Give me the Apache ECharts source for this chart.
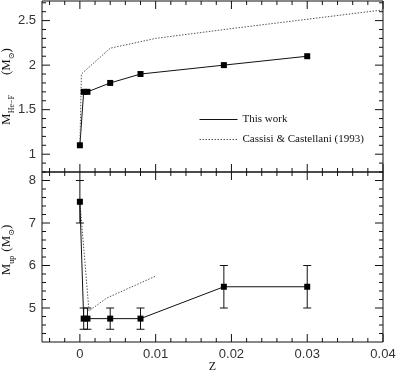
<!DOCTYPE html>
<html>
<head>
<meta charset="utf-8">
<script src="https://cdn.jsdelivr.net/npm/echarts@6/dist/echarts.min.js"></script>
<style>
  html, body { margin: 0; padding: 0; background: #fff; }
  #chart { width: 397px; height: 372px; }
</style>
</head>
<body>
<div id="chart"></div>
<script>
// top panel: M_He-F vs Z
const heZ = [0, 0.0005, 0.001, 0.004, 0.008, 0.019, 0.03]
const heM = [1.1, 1.7, 1.7, 1.8, 1.9, 2.0, 2.1]
const ccHeZ = [0, 0.0002, 0.004, 0.01, 0.02, 0.04]
const ccHeM = [1.1, 1.9, 2.19, 2.3, 2.41, 2.62]

// bottom panel: M_up vs Z, with error bars
const upZ = [0, 0.0005, 0.001, 0.004, 0.008, 0.019, 0.03]
const upM = [7.5, 4.75, 4.75, 4.75, 4.75, 5.5, 5.5]
const upErr = [0.5, 0.25, 0.25, 0.25, 0.25, 0.5, 0.5]
const ccUpZ = [0, 0.0012, 0.0035, 0.01]
const ccUpM = [7.5, 4.93, 5.23, 5.75]

// tick values
const xMajor = [0, 0.01, 0.02, 0.03, 0.04]
const xMinor = [-0.004, -0.002, 0.002, 0.004, 0.006, 0.008, 0.012, 0.014, 0.016, 0.018,
  0.022, 0.024, 0.026, 0.028, 0.032, 0.034, 0.036, 0.038]
const yTopMajor = [1, 1.5, 2, 2.5]
const yTopMinor = [0.9, 1.1, 1.2, 1.3, 1.4, 1.6, 1.7, 1.8, 1.9, 2.1, 2.2, 2.3, 2.4, 2.6, 2.7]
const yBotMajor = [5, 6, 7, 8]
const yBotMinor = [4.4, 4.6, 4.8, 5.2, 5.4, 5.6, 5.8, 6.2, 6.4, 6.6, 6.8, 7.2, 7.4, 7.6, 7.8, 8.2]

const ink = '#111'
const serif = '"Liberation Serif", "DejaVu Serif", serif'
const sans = '"Liberation Sans", Arial, sans-serif'

const xRange = {min: -0.005, max: 0.04}
const topRange = {min: 0.8, max: 2.72}
const botRange = {min: 4.2, max: 8.2}

const MAJ = 8, MIN = 4   // tick lengths in px

const nameRich = {
  m: {fontFamily: serif, fontSize: 13, color: ink},
  s: {fontFamily: serif, fontSize: 8, color: ink, verticalAlign: 'bottom', padding: [0, 0, -3, 0]},
  g: {width: 20},
  g2: {width: 4},
  g3: {width: 14}
}

function xAxis(grid, labels, extra) {
  return Object.assign({
    type: 'value', gridIndex: grid, min: xRange.min, max: xRange.max,
    axisLine: {show: false}, axisTick: {show: false}, splitLine: {show: false},
    axisLabel: labels ? {show: true, customValues: xMajor, fontFamily: sans, fontSize: 13,
      color: '#333', margin: 6} : {show: false}
  }, extra || {})
}
function yAxis(grid, range, major, extra) {
  return Object.assign({
    type: 'value', gridIndex: grid, min: range.min, max: range.max,
    axisLine: {show: false}, axisTick: {show: false}, splitLine: {show: false},
    nameMoveOverlap: false,
    axisLabel: {show: true, customValues: major, fontFamily: sans, fontSize: 13,
      color: '#333', margin: 6}
  }, extra || {})
}

// tick rows: [value, length, kind]  kind 0 = along x, 1 = along y
function tickRows(xs, ys, len) {
  return xs.map(v => [v, len, 0]).concat(ys.map(v => [v, len, 1]))
}
function tickSeries(idx, yRange, rows) {
  return {
    type: 'custom', xAxisIndex: idx, yAxisIndex: idx, clip: false, silent: true,
    data: rows, z: 5,
    renderItem: function (params, api) {
      const v = api.value(0), len = api.value(1), kind = api.value(2)
      const st = {stroke: ink, lineWidth: 1}
      if (kind === 0) {
        const b = api.coord([v, yRange.min]), t = api.coord([v, yRange.max])
        return {type: 'group', children: [
          {type: 'line', shape: {x1: b[0], y1: b[1], x2: b[0], y2: b[1] - len}, style: st},
          {type: 'line', shape: {x1: t[0], y1: t[1], x2: t[0], y2: t[1] + len}, style: st}
        ]}
      }
      const l = api.coord([xRange.min, v]), r = api.coord([xRange.max, v])
      return {type: 'group', children: [
        {type: 'line', shape: {x1: l[0], y1: l[1], x2: l[0] + len, y2: l[1]}, style: st},
        {type: 'line', shape: {x1: r[0], y1: r[1], x2: r[0] - len, y2: r[1]}, style: st}
      ]}
    }
  }
}

const zip = (a, b) => a.map((v, i) => [v, b[i]])
const gridBase = {left: 42, right: 14, show: true, borderColor: ink, borderWidth: 1,
  backgroundColor: 'transparent', containLabel: false, outerBoundsMode: 'none'}

const option = {
  animation: false,
  grid: [
    Object.assign({top: 1, height: 171}, gridBase),
    Object.assign({top: 172, height: 170}, gridBase)
  ],
  xAxis: [
    xAxis(0, false),
    xAxis(1, true, {name: 'Z', nameLocation: 'middle', nameGap: 19, nameMoveOverlap: false,
      nameTextStyle: {fontFamily: serif, fontSize: 12, color: ink}})
  ],
  yAxis: [
    yAxis(0, topRange, yTopMajor, {
      name: '{m|M}{s|He−F}{g|}{m|(M}{s|⊙}{m|)}', nameLocation: 'middle', nameGap: 29,
      nameTextStyle: {rich: nameRich}
    }),
    yAxis(1, botRange, yBotMajor, {
      name: '{g3|}{m|M}{s|up}{g2|}{m|(M}{s|⊙}{m|)}', nameLocation: 'middle', nameGap: 29,
      nameTextStyle: {rich: nameRich}
    })
  ],
  legend: {
    orient: 'vertical', left: 194, top: 109, itemWidth: 38, itemHeight: 10, itemGap: 9,
    data: ['This work', 'Cassisi & Castellani (1993)'],
    itemStyle: {opacity: 0},
    lineStyle: {width: 1},
    textStyle: {fontFamily: serif, fontSize: 11, color: ink}
  },
  series: [
    {
      name: 'This work', type: 'line', xAxisIndex: 0, yAxisIndex: 0,
      data: zip(heZ, heM), symbol: 'rect', symbolSize: 6,
      itemStyle: {color: '#000'}, lineStyle: {color: ink, width: 1}
    },
    {
      name: 'Cassisi & Castellani (1993)', type: 'line', xAxisIndex: 0, yAxisIndex: 0,
      data: zip(ccHeZ, ccHeM), symbol: 'none',
      itemStyle: {color: '#555'}, lineStyle: {color: '#555', width: 1, type: [1.5, 1.5]}
    },
    {
      name: 'Cassisi & Castellani (1993)', type: 'line', xAxisIndex: 1, yAxisIndex: 1,
      data: zip(ccUpZ, ccUpM), symbol: 'none',
      itemStyle: {color: '#555'}, lineStyle: {color: '#555', width: 1, type: [1.5, 1.5]}
    },
    {
      name: 'This work', type: 'line', xAxisIndex: 1, yAxisIndex: 1,
      data: zip(upZ, upM), symbol: 'rect', symbolSize: 6, z: 3,
      itemStyle: {color: '#000'}, lineStyle: {color: ink, width: 1}
    },
    {
      name: 'errors', type: 'custom', xAxisIndex: 1, yAxisIndex: 1,
      data: upZ.map((z, i) => [z, upM[i] - upErr[i], upM[i] + upErr[i]]),
      renderItem: function (params, api) {
        const lo = api.coord([api.value(0), api.value(1)])
        const hi = api.coord([api.value(0), api.value(2)])
        const w = 4
        const st = {stroke: ink, lineWidth: 1}
        return {type: 'group', children: [
          {type: 'line', shape: {x1: lo[0], y1: lo[1], x2: hi[0], y2: hi[1]}, style: st},
          {type: 'line', shape: {x1: lo[0] - w, y1: lo[1], x2: lo[0] + w, y2: lo[1]}, style: st},
          {type: 'line', shape: {x1: hi[0] - w, y1: hi[1], x2: hi[0] + w, y2: hi[1]}, style: st}
        ]}
      },
      z: 2
    },
    tickSeries(0, topRange, tickRows(xMajor, yTopMajor, MAJ).concat(tickRows(xMinor, yTopMinor, MIN))),
    tickSeries(1, botRange, tickRows(xMajor, yBotMajor, MAJ).concat(tickRows(xMinor, yBotMinor, MIN)))
  ]
}

const box = echarts.init(document.getElementById('chart'))
box.setOption(option)
</script>
</body>
</html>
